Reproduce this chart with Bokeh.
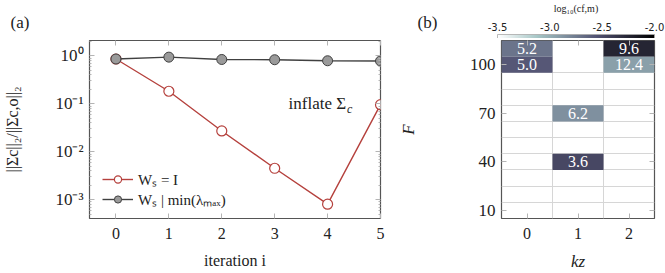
import numpy as np
from bokeh.plotting import figure
from bokeh.models import (ColumnDataSource, FixedTicker, LogAxis, LinearAxis,
                          CustomJSTickFormatter, Legend, LegendItem,
                          LinearColorMapper, ColorBar, Label, Range1d)
from bokeh.core.properties import value
from bokeh.layouts import row, column
from bokeh.embed import file_html
from bokeh.resources import INLINE

# ---------------- data ----------------
iterations = [0, 1, 2, 3, 4, 5]
ratio_identity = [0.86, 0.183, 0.0272, 0.00454, 0.00081, 0.096]
ratio_minlam = [0.86, 0.94, 0.84, 0.83, 0.79, 0.78]
legend_labels = ["Wₛ = I", "Wₛ | min(λₘₐₓ)"]

kz_vals = [0, 0, 2, 2, 1, 1]
F_vals = [110, 100, 110, 100, 70, 40]
log_c = [-2.72, -2.58, -2.25, -2.93, -2.85, -2.48]
cell_text = ["5.2", "5.0", "9.6", "12.4", "6.2", "3.6"]
F_ticks = [10, 40, 70, 100]
kz_ticks = [0, 1, 2]
cbar_ticks = [-3.5, -3.0, -2.5, -2.0]
CB_LOW, CB_HIGH = -3.5, -2.0
panel_tags = ["(a)", "(b)"]

SERIF = "Liberation Serif"
TICK_COL = "#b4b4b4"
FRAME_COL = "#555555"
TXT = "#222222"

# layout constants (pixels)
W_A, W_B, HEAD_H, TOTAL_H = 395, 270, 38, 273
A_LEFT, A_RIGHT = 89, 15
B_LEFT, B_RIGHT = 102, 11
TOP_GAP, BOTTOM = 2, 50

# bone_r palette
def bone_r(n=256):
    s = np.linspace(1, 0, n)
    r = np.interp(s, [0, 0.746032, 1], [0, 0.652778, 1])
    g = np.interp(s, [0, 0.365079, 0.746032, 1], [0, 0.319444, 0.777778, 1])
    b = np.interp(s, [0, 0.365079, 1], [0, 0.444444, 1])
    return ["#%02x%02x%02x" % (int(round(a * 255)), int(round(c * 255)), int(round(d * 255)))
            for a, c, d in zip(r, g, b)]

def style_ticks(ax, label_size="16px"):
    ax.axis_line_color = None
    ax.major_tick_in = 5
    ax.major_tick_out = 0
    ax.minor_tick_in = 2
    ax.minor_tick_out = 0
    ax.major_tick_line_color = TICK_COL
    ax.minor_tick_line_color = TICK_COL
    ax.major_label_text_font = SERIF
    ax.major_label_text_font_size = label_size
    ax.major_label_text_color = TXT
    ax.axis_label_text_font = SERIF
    ax.axis_label_text_font_style = "normal"
    ax.axis_label_text_color = TXT

def hide_labels(ax):
    ax.major_label_text_font_size = "1px"
    ax.major_label_text_color = None
    ax.major_label_standoff = 0

mapper = LinearColorMapper(palette=bone_r(), low=CB_LOW, high=CB_HIGH)

# ---------------- header strip: panel tags + colour bar ----------------
bar_x0 = W_A + B_LEFT
bar_w = W_B - B_LEFT - B_RIGHT
px_per_unit = bar_w / (CB_HIGH - CB_LOW)
head = figure(width=W_A + W_B, height=HEAD_H,
              x_range=Range1d(CB_LOW - bar_x0 / px_per_unit, CB_HIGH + B_RIGHT / px_per_unit),
              y_range=Range1d(HEAD_H, 0),
              x_axis_location=None, y_axis_location=None, min_border=0,
              output_backend="svg", toolbar_location=None)
head.outline_line_color = None
head.xgrid.visible = False
head.ygrid.visible = False

cbar = ColorBar(color_mapper=mapper, orientation="horizontal", height=7, width=bar_w,
                location=(bar_x0, -3), ticker=FixedTicker(ticks=cbar_ticks, minor_ticks=[]),
                major_label_text_font_size="1px", major_label_text_color=None,
                major_tick_line_color=None, minor_tick_line_color=None,
                bar_line_color="#a8a8a8", bar_line_width=0.8,
                padding=0, margin=0, label_standoff=0, background_fill_alpha=0)
head.add_layout(cbar)
cb_src = ColumnDataSource(dict(v=cbar_ticks, t=["%.1f" % v for v in cbar_ticks]))
head.text("v", 26, text="t", source=cb_src, text_align="center", text_baseline="middle",
          text_font=value("DejaVu Sans"), text_font_size="10px", text_color=TXT)
head.add_layout(Label(x=(CB_LOW + CB_HIGH) / 2, y=8, text="log₁₀(cf,m)", text_align="center",
                      text_baseline="middle", text_font=SERIF, text_font_size="10px",
                      text_color=TXT))
head.add_layout(Label(x=10, y=HEAD_H - 22, x_units="screen", y_units="screen",
                      text=panel_tags[0], text_baseline="middle", text_font=SERIF,
                      text_font_size="17px", text_color=TXT))
head.add_layout(Label(x=417, y=HEAD_H - 22, x_units="screen", y_units="screen",
                      text=panel_tags[1], text_baseline="middle", text_font=SERIF,
                      text_font_size="17px", text_color=TXT))

# ---------------- panel (a) ----------------
Y_LO, Y_HI = 10 ** -3.39, 10 ** 0.32
pa = figure(width=W_A, height=TOTAL_H - HEAD_H, x_range=Range1d(-0.5, 5),
            y_range=Range1d(Y_LO, Y_HI), y_axis_type="log",
            output_backend="svg", toolbar_location=None,
            min_border_left=A_LEFT, min_border_right=A_RIGHT,
            min_border_top=TOP_GAP, min_border_bottom=BOTTOM)
pa.outline_line_color = FRAME_COL
pa.outline_line_width = 1.2
pa.xgrid.visible = False
pa.ygrid.visible = False

ymaj = [1e-3, 1e-2, 1e-1, 1.0]
ymin = [k * 10.0 ** e for e in range(-4, 1) for k in range(2, 10)]
logfmt = CustomJSTickFormatter(code="""
const e = Math.round(Math.log10(tick));
const m = {'0':'⁰','1':'¹','2':'²','3':'³','4':'⁴','-':'⁻'};
return '10' + String(e).split('').map(c => m[c]).join('');
""")

yax = pa.yaxis[0]
yax.ticker = FixedTicker(ticks=ymaj, minor_ticks=ymin)
yax.formatter = logfmt
style_ticks(yax, "17px")
yax.axis_label = "||Σc||₂/||Σc,o||₂"
yax.axis_label_text_font_size = "16px"
yax.axis_label_standoff = 31
yax.major_label_standoff = 6

xax = pa.xaxis[0]
xax.ticker = FixedTicker(ticks=iterations, minor_ticks=[])
style_ticks(xax)
xax.axis_label = "iteration i"
xax.axis_label_text_font_size = "16px"
xax.axis_label_standoff = 10
xax.major_label_standoff = 9

ra = LogAxis(ticker=FixedTicker(ticks=ymaj, minor_ticks=ymin))
style_ticks(ra); hide_labels(ra)
pa.add_layout(ra, "right")
ta = LinearAxis(ticker=FixedTicker(ticks=iterations, minor_ticks=[]))
style_ticks(ta); hide_labels(ta)
pa.add_layout(ta, "above")

src_a = ColumnDataSource(dict(it=iterations, r1=ratio_identity, r2=ratio_minlam))
RED = "#b5413d"
GRAY_LINE = "#404040"
l1 = pa.line("it", "r1", source=src_a, line_color=RED, line_width=1.4)
c1 = pa.scatter("it", "r1", source=src_a, size=10, fill_color="white", line_color=RED, line_width=1.2)
l2 = pa.line("it", "r2", source=src_a, line_color=GRAY_LINE, line_width=1.4)
c2 = pa.scatter("it", "r2", source=src_a, size=10, fill_color="#9a9a9a", line_color=GRAY_LINE, line_width=1.0)

leg = Legend(items=[LegendItem(label=legend_labels[0], renderers=[l1, c1]),
                    LegendItem(label=legend_labels[1], renderers=[l2, c2])],
             location=(13, 9), border_line_color=None, background_fill_alpha=0,
             label_text_font=SERIF, label_text_font_size="15px", label_text_color=TXT,
             glyph_width=31, label_height=18, glyph_height=18, spacing=0, padding=2, margin=0,
             label_standoff=5)
pa.add_layout(leg)

pa.add_layout(Label(x=4.35, y=0.1, text="inflate Σ", text_align="right", text_baseline="middle",
                    text_font=SERIF, text_font_size="17px", text_color=TXT))
pa.add_layout(Label(x=4.35, y=0.1, x_offset=1, y_offset=-5, text="c", text_align="left",
                    text_baseline="middle", text_font=SERIF, text_font_style="italic",
                    text_font_size="12px", text_color=TXT))

# ---------------- panel (b) ----------------
pb = figure(width=W_B, height=TOTAL_H - HEAD_H, x_range=Range1d(-0.5, 2.5), y_range=Range1d(5, 115),
            output_backend="svg", toolbar_location=None,
            min_border_left=B_LEFT, min_border_right=B_RIGHT,
            min_border_top=TOP_GAP, min_border_bottom=BOTTOM)
pb.outline_line_color = FRAME_COL
pb.outline_line_width = 1.2
pb.xgrid.ticker = FixedTicker(ticks=[0.5, 1.5], minor_ticks=[])
pb.ygrid.ticker = FixedTicker(ticks=[15, 25, 35, 45, 55, 65, 75, 85, 95], minor_ticks=[])
pb.xgrid.grid_line_color = "#d6d6d6"
pb.ygrid.grid_line_color = "#d6d6d6"

src_b = ColumnDataSource(dict(kz=kz_vals, F=F_vals, logc=log_c, txt=cell_text))
pb.rect("kz", "F", width=1, height=10, source=src_b,
        fill_color={"field": "logc", "transform": mapper}, line_color=None)
pb.text("kz", "F", text="txt", source=src_b, text_align="center", text_baseline="middle",
        text_color="white", text_font=value(SERIF), text_font_size="16px")

byax = pb.yaxis[0]
byax.ticker = FixedTicker(ticks=F_ticks, minor_ticks=[])
style_ticks(byax, "17px")
byax.axis_label = "F"
byax.axis_label_text_font_style = "italic"
byax.axis_label_text_font_size = "17px"
byax.axis_label_standoff = 49
byax.major_label_standoff = 6

bxax = pb.xaxis[0]
bxax.ticker = FixedTicker(ticks=kz_ticks, minor_ticks=[])
style_ticks(bxax)
bxax.axis_label = "kz"
bxax.axis_label_text_font_style = "italic"
bxax.axis_label_text_font_size = "17px"
bxax.axis_label_standoff = 10
bxax.major_label_standoff = 9

rb = LinearAxis(ticker=FixedTicker(ticks=F_ticks, minor_ticks=[]))
style_ticks(rb); hide_labels(rb)
pb.add_layout(rb, "right")
tb = LinearAxis(ticker=FixedTicker(ticks=kz_ticks, minor_ticks=[]))
style_ticks(tb); hide_labels(tb)
pb.add_layout(tb, "above")

layout = column(head, row(pa, pb))
open("out.html", "w").write(file_html(layout, INLINE))
